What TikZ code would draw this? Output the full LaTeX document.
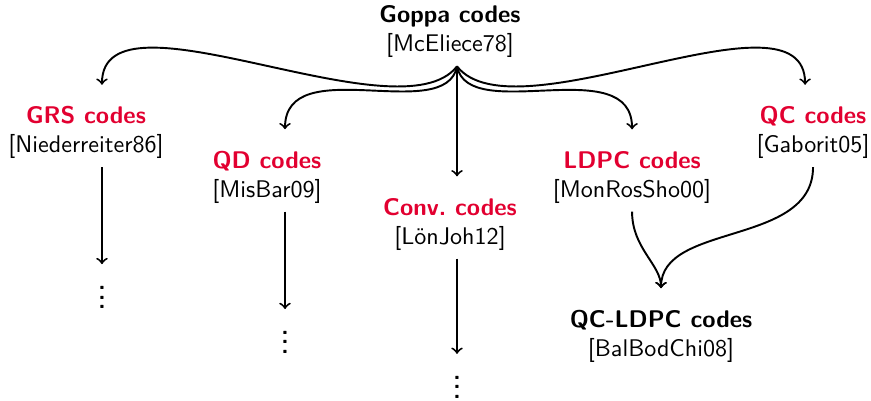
\documentclass[tikz,border=0pt]{standalone}
\usepackage{amsmath}
\usepackage{tikz}
\usetikzlibrary{arrows,positioning}
\definecolor{codered}{RGB}{226,0,48}
\tikzstyle{codestyle}=[align=center,font=\sffamily]
\tikzstyle{dotstyle}=[anchor=base,inner sep=3pt,font=\sffamily\bfseries]

\begin{document}
\begin{tikzpicture}[>=to]
	\tikzstyle{linkstyle}=[->,thick,shorten >=5.5pt]
	\useasboundingbox (0,0) rectangle (12.71,5.85);

	\node[codestyle] (goppa) at (6.567,5.385) {\textbf{Goppa codes}\\{}[McEliece78]};
	\coordinate (root) at ([xshift=2.9pt]goppa.south);

	\node[codestyle] (grs)  at (1.255,3.915) {\textcolor{codered}{\textbf{GRS codes}}\\{}[Niederreiter86]};
	\node[codestyle] (qd)   at (3.896,3.266) {\textcolor{codered}{\textbf{QD codes}}\\{}[MisBar09]};
	\node[codestyle] (conv) at (6.567,2.580) {\textcolor{codered}{\textbf{Conv.\ codes}}\\{}[L\"onJoh12]};
	\node[codestyle] (ldpc) at (9.223,3.266) {\textcolor{codered}{\textbf{LDPC codes}}\\{}[MonRosSho00]};
	\node[codestyle] (qc)   at (11.864,3.915) {\textcolor{codered}{\textbf{QC codes}}\\{}[Gaborit05]};

	\node[codestyle] (qcldpc) at (9.646,0.946) {\textbf{QC-LDPC codes}\\{}[BalBodChi08]};

	% open ends
	\node[dotstyle] (grsdots)  at (1.488,1.345) {$\vdots$};
	\node[dotstyle] (qddots)   at (4.159,0.690) {$\vdots$};
	\node[dotstyle] (convdots) at (6.669,0.036) {$\vdots$};

	% from Goppa codes
	\draw[linkstyle] (root) .. controls +(-128:1.36) and +(90:1.71) .. (grsdots |- grs.north);
	\draw[linkstyle] (root) .. controls +(-101:0.88) and +(90:1.34) .. (qddots |- qd.north);
	\draw[linkstyle] (root) -- (root |- conv.north);
	\draw[linkstyle] (root) .. controls +(-79:0.88) and +(90:1.34) .. (ldpc.north);
	\draw[linkstyle] (root) .. controls +(-52:1.36) and +(90:1.71) .. ([xshift=-3.3pt]qc.north);

	% merge into QC-LDPC
	\draw[linkstyle] (ldpc.south) to[out=-90,in=90] (qcldpc.north);
	\draw[linkstyle] (qc.south) to[out=-90,in=90] (qcldpc.north);

	% down to the dots
	\draw[->,thick] (grsdots |- grs.south) -- (grsdots);
	\draw[->,thick] (qddots |- qd.south) -- (qddots);
	\draw[->,thick] (convdots |- conv.south) -- (convdots);
\end{tikzpicture}
\end{document}
